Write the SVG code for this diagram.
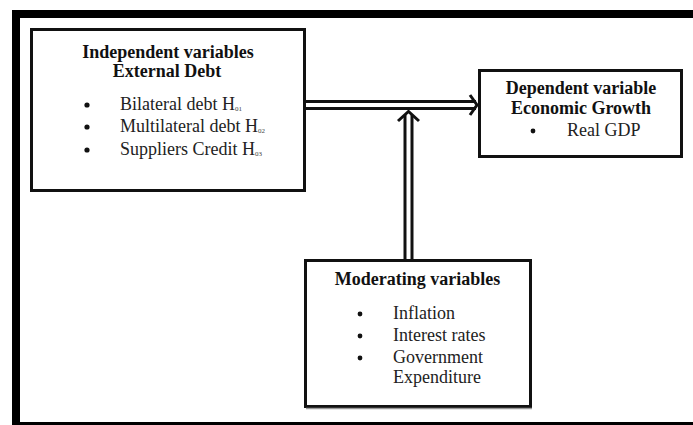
<svg xmlns="http://www.w3.org/2000/svg" width="693" height="425" viewBox="0 0 693 425">
<style>
.box{fill:#fff;stroke:#111;stroke-width:3}
.shadow{fill:none;stroke:#999;stroke-width:1.5}
.t{font-family:"Liberation Serif","Times New Roman",serif;font-size:18px;fill:#222}
.b{font-weight:bold;text-anchor:middle;fill:#111}
.sub{font-family:"Liberation Serif","Times New Roman",serif;font-size:7px;fill:#444}
.ln{stroke:#111;stroke-width:3;fill:none}
.hd{stroke:#111;stroke-width:3;fill:none;stroke-linejoin:miter}
</style>
<rect width="693" height="425" fill="#fff"/>
<g id="frame">
<rect x="12" y="10" width="681" height="8" fill="#000"/>
<rect x="12" y="10" width="8" height="415" fill="#000"/>
<rect x="12" y="422" width="681" height="3" fill="#000"/>
</g>
<g id="independent">
<rect class="box" x="31.5" y="29.5" width="273" height="161"/>
<text class="t b" x="168" y="58">Independent variables</text>
<text class="t b" x="167" y="77">External Debt</text>
<circle cx="87" cy="105" r="2.6" fill="#111"/>
<circle cx="87" cy="127" r="2.6" fill="#111"/>
<circle cx="87" cy="150" r="2.6" fill="#111"/>
<text class="t" x="120" y="110">Bilateral debt H<tspan class="sub" dy="1">01</tspan></text>
<text class="t" x="120" y="132">Multilateral debt H<tspan class="sub" dy="1">02</tspan></text>
<text class="t" x="120" y="155">Suppliers Credit H<tspan class="sub" dy="1">03</tspan></text>
</g>
<g id="dependent">
<rect class="box" x="479.5" y="70.5" width="202" height="86"/>
<text class="t b" x="581" y="94">Dependent variable</text>
<text class="t b" x="581" y="114">Economic Growth</text>
<circle cx="533" cy="131" r="2.4" fill="#111"/>
<text class="t" x="567" y="136">Real GDP</text>
</g>
<g id="moderating">
<rect class="box" x="305.5" y="260.5" width="225" height="146"/>
<line class="shadow" x1="306" y1="408.5" x2="532" y2="408.5"/>
<text class="t b" x="417.5" y="285">Moderating variables</text>
<circle cx="360" cy="314" r="2.4" fill="#111"/>
<circle cx="360" cy="336" r="2.4" fill="#111"/>
<circle cx="360" cy="358" r="2.4" fill="#111"/>
<text class="t" x="393" y="319">Inflation</text>
<text class="t" x="393" y="341">Interest rates</text>
<text class="t" x="393" y="363">Government</text>
<text class="t" x="393" y="383">Expenditure</text>
</g>
<g id="connectors">
<line class="ln" x1="306" y1="101.5" x2="476" y2="101.5"/>
<line class="ln" x1="306" y1="108.5" x2="476" y2="108.5"/>
<polyline class="hd" points="470,95 477,105 470,115"/>
<line class="ln" x1="405" y1="115" x2="405" y2="260"/>
<line class="ln" x1="412" y1="115" x2="412" y2="260"/>
<polyline class="hd" points="398,121 408.5,111.5 419,121"/>
</g>
</svg>
